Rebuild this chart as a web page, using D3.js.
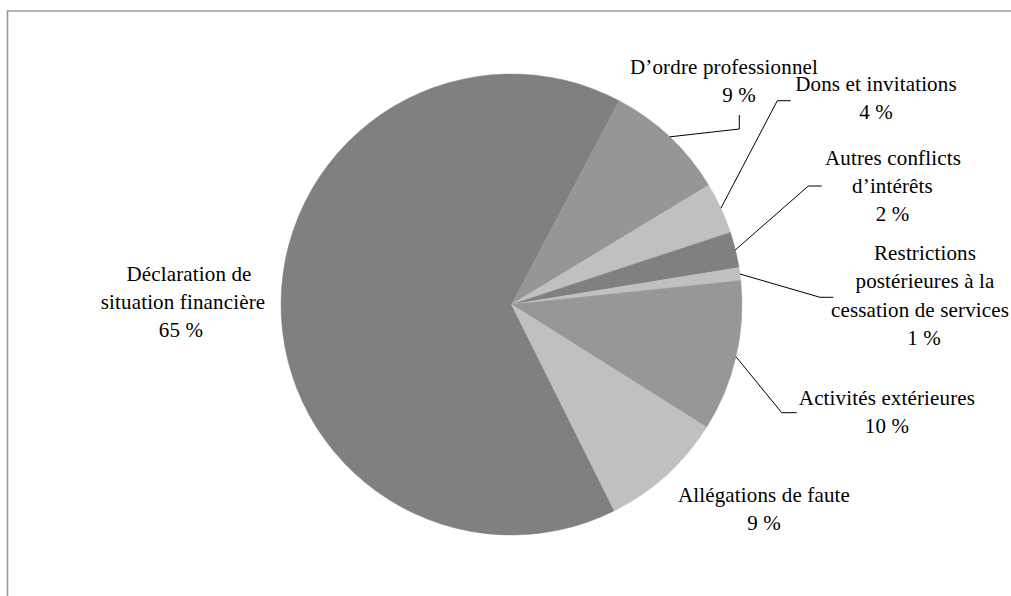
<!DOCTYPE html>
<html>
<head>
<meta charset="utf-8">
<script src="https://cdn.jsdelivr.net/npm/d3@7/dist/d3.min.js"></script>
<style>
  html, body { margin: 0; padding: 0; background: #fff; }
  svg { display: block; }
  text { font-family: "Liberation Serif", "Times New Roman", serif; font-size: 21px; letter-spacing: 0.15px; fill: #000; }
</style>
</head>
<body>
<svg id="chart" width="1011" height="596"></svg>
<script>
// ---- data ----
const categories = [
  "Déclaration de situation financière",
  "D’ordre professionnel",
  "Dons et invitations",
  "Autres conflicts d’intérêts",
  "Restrictions postérieures à la cessation de services",
  "Activités extérieures",
  "Allégations de faute"
];
const values = [65.1, 8.6, 3.6, 2.5, 0.9, 10.6, 8.7];
const percentLabels = ["65 %", "9 %", "4 %", "2 %", "1 %", "10 %", "9 %"];
const labelLines = [
  ["Déclaration de", "situation financière"],
  ["D’ordre professionnel"],
  ["Dons et invitations"],
  ["Autres conflicts", "d’intérêts"],
  ["Restrictions", "postérieures à la", "cessation de services"],
  ["Activités extérieures"],
  ["Allégations de faute"]
];
const colors = ["#808080", "#969696", "#c0c0c0", "#808080", "#c0c0c0", "#979797", "#c0c0c0"];

// ---- layout ----
const W = 1011, H = 596;
const cx = 511.5, cy = 304.5, R = 230.5;
const startDeg = 153.5;
const lineH = 28.3;
// label placement: center x (per line), first baseline
const labelLayout = [
  { xs: [189, 183, 181], y: 280.7 },
  { xs: [724, 739], y: 73.5 },
  { xs: [876, 876], y: 90.7 },
  { xs: [893, 892.5, 892.5], y: 164.5 },
  { xs: [925, 925, 920, 924], y: 260 },
  { xs: [887, 887], y: 404.5 },
  { xs: [764, 764], y: 501.5 }
];
// leader lines: elbow and end points (null = no leader)
const leaderLayout = [
  null,
  [[739.3, 129], [739.3, 115]],
  [[777.3, 100.7], [790.7, 100.7]],
  [[808.3, 186], [821.7, 186]],
  [[820, 297.3], [833.3, 297.3]],
  [[781.7, 412.7], [796.7, 412.7]],
  null
];

const svg = d3.select("#chart");
svg.append("rect").attr("width", W).attr("height", H).attr("fill", "#fff");

// frame (top and left edges visible)
svg.append("path")
  .attr("d", `M7.5,${H} L7.5,11 L${W},11`)
  .attr("fill", "none").attr("stroke", "#9a9a9a").attr("stroke-width", 1.6);

const rad = d => d * Math.PI / 180;
const pie = d3.pie().sort(null).value(d => d)
  .startAngle(rad(startDeg)).endAngle(rad(startDeg) + 2 * Math.PI);
const arcs = pie(values);
const arc = d3.arc().innerRadius(0).outerRadius(R);

const g = svg.append("g").attr("transform", `translate(${cx},${cy})`);
g.selectAll("path.slice").data(arcs).enter().append("path")
  .attr("class", "slice")
  .attr("d", arc)
  .attr("fill", (d, i) => colors[i])
  .attr("stroke", (d, i) => colors[i])
  .attr("stroke-width", 0.5);

// leader lines
arcs.forEach((a, i) => {
  const L = leaderLayout[i];
  if (!L) return;
  const mid = (a.startAngle + a.endAngle) / 2;
  const p0 = [cx + R * Math.sin(mid), cy - R * Math.cos(mid)];
  const pts = [p0].concat(L);
  svg.append("path")
    .attr("d", d3.line()(pts))
    .attr("fill", "none").attr("stroke", "#000").attr("stroke-width", 1);
});

// labels
categories.forEach((c, i) => {
  const lines = labelLines[i].concat([percentLabels[i]]);
  const lay = labelLayout[i];
  const t = svg.append("text").attr("text-anchor", "middle");
  lines.forEach((ln, j) => {
    t.append("tspan")
      .attr("x", lay.xs[j])
      .attr("y", lay.y + j * lineH)
      .text(ln);
  });
});
</script>
</body>
</html>
